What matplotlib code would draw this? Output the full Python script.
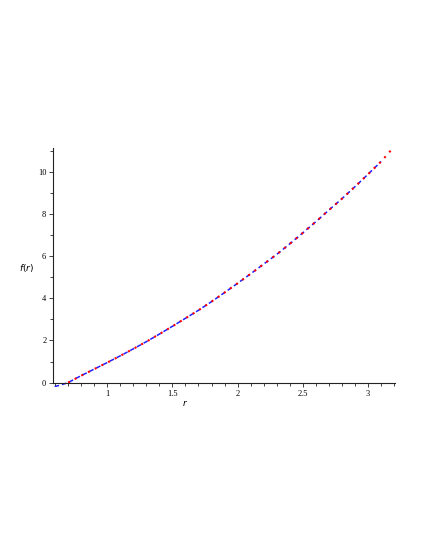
import matplotlib
matplotlib.use('Agg')
import matplotlib.pyplot as plt
from matplotlib.ticker import MultipleLocator, FixedLocator

# values
r_blue = [0.597, 0.65, 0.7, 0.8, 0.9, 1.0, 1.1, 1.2, 1.3, 1.4, 1.5, 1.6, 1.7,
          1.8, 1.9, 2.0, 2.1, 2.2, 2.3, 2.4, 2.5, 2.6, 2.7, 2.8, 2.9, 3.0, 3.1]
f_blue = [-0.19, -0.1, 0.0, 0.33, 0.64, 0.95, 1.27, 1.6, 1.94, 2.3, 2.67, 3.05,
          3.43, 3.84, 4.27, 4.71, 5.16, 5.62, 6.08, 6.58, 7.1, 7.63, 8.18,
          8.72, 9.29, 9.88, 10.48]

r_red = [0.7, 0.8, 0.9, 1.0, 1.1, 1.2, 1.3, 1.4, 1.5, 1.6, 1.7, 1.8, 1.9, 2.0,
         2.1, 2.2, 2.3, 2.4, 2.5, 2.6, 2.7, 2.8, 2.9, 3.0, 3.1, 3.185]
f_red = [0.0, 0.33, 0.64, 0.95, 1.27, 1.6, 1.94, 2.3, 2.67, 3.05, 3.43, 3.84,
         4.27, 4.71, 5.16, 5.62, 6.08, 6.58, 7.1, 7.63, 8.18, 8.72, 9.29, 9.88,
         10.48, 11.08]

x_ticks = [1, 1.5, 2, 2.5, 3]
x_ticklabels = ['1', '1.5', '2', '2.5', '3']
y_ticks = [0, 2, 4, 6, 8, 10]
y_ticklabels = ['0', '2', '4', '6', '8', '10']

plt.rcParams['font.family'] = ['Liberation Serif', 'DejaVu Serif']

fig = plt.figure(figsize=(4.25, 5.5), dpi=100)
ax = fig.add_axes([0.1254, 0.297, 0.929 - 0.1254, 0.7305 - 0.297])

ax.plot(r_blue, f_blue, color='#2020ff', lw=1.1, dashes=(3, 2))
ax.plot(r_red, f_red, color='#ff0000', lw=1.5, dashes=(1.0, 2.6))

ax.set_xlim(0.587, 3.205)
ax.set_ylim(-0.19, 11.11)

for s in ['top', 'right']:
    ax.spines[s].set_visible(False)
ax.spines['bottom'].set_position(('data', 0))
ax.spines['left'].set_bounds(0, 11.11)
for s in ['left', 'bottom']:
    ax.spines[s].set_linewidth(0.8)
    ax.spines[s].set_color('#222222')

ax.set_xticks(x_ticks)
ax.set_xticklabels(x_ticklabels)
ax.set_yticks(y_ticks)
ax.set_yticklabels(y_ticklabels)
ax.xaxis.set_minor_locator(MultipleLocator(0.1))
ax.yaxis.set_minor_locator(FixedLocator([1, 3, 5, 7, 9, 11]))
ax.tick_params(which='major', direction='out', length=3, width=0.6,
               labelsize=6, pad=2, color='#222222')
ax.tick_params(which='minor', direction='out', length=2, width=0.6,
               color='#222222')

fig.text(0.0635, 0.512, r'$f(r)$', fontsize=6.5, ha='center', va='center')
fig.text(0.435, 0.268, r'$r$', fontsize=6.5, ha='center', va='center')

fig.savefig('out.png', dpi=100)
